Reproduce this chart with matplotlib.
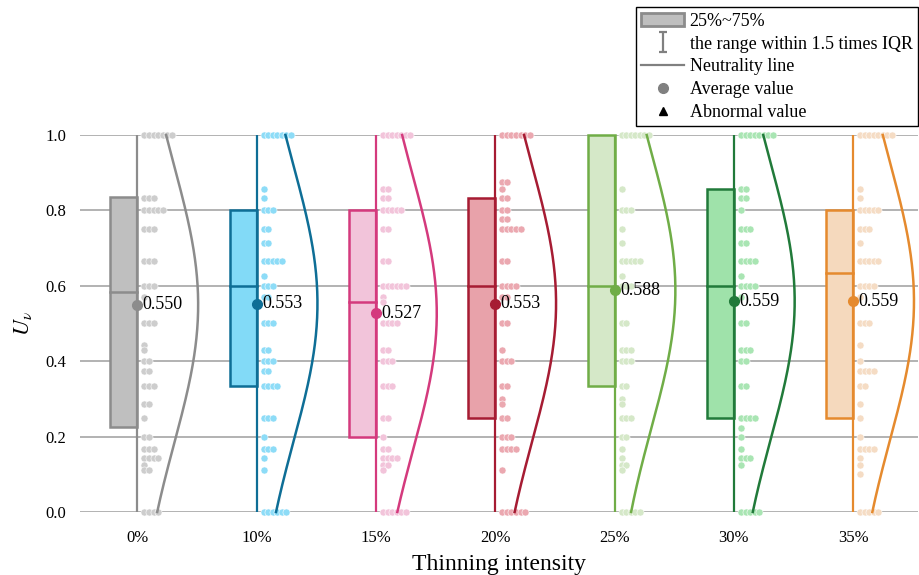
import matplotlib.pyplot as plt
import numpy as np
from matplotlib.lines import Line2D
from matplotlib.patches import Patch, Rectangle
from matplotlib.path import Path

plt.rcParams['font.family'] = ['Liberation Serif', 'DejaVu Serif']
plt.rcParams['mathtext.fontset'] = 'stix'

# Data -----------------------------------------------------
groups = ['0%', '10%', '15%', '20%', '25%', '30%', '35%']
means = [0.550, 0.553, 0.527, 0.553, 0.588, 0.559, 0.559]
q1 = [0.226, 0.333, 0.200, 0.250, 0.333, 0.250, 0.250]
medians = [0.584, 0.600, 0.556, 0.600, 0.600, 0.600, 0.633]
q3 = [0.835, 0.800, 0.800, 0.833, 1.000, 0.857, 0.800]
w_low = [0, 0, 0, 0, 0, 0, 0]
w_high = [1, 1, 1, 1, 1, 1, 1]
sds = [0.368, 0.366, 0.365, 0.366, 0.365, 0.366, 0.368]

vals_0 = [1.0, .833, .8, .75, .667, .6, .571, .5, .444, .429, .4, .375, .333, .286, .25, .2, .167, .143, .125, .111, 0]
cnt_0 = [7, 3, 5, 3, 3, 3, 1, 3, 1, 1, 2, 2, 3, 2, 1, 2, 3, 4, 1, 2, 4]
vals_10 = [1.0, .857, .833, .8, .75, .714, .667, .625, .6, .571, .5, .429, .4, .375, .333, .25, .2, .167, .143, .111, 0]
cnt_10 = [7, 1, 1, 3, 2, 2, 5, 1, 3, 2, 3, 2, 3, 2, 4, 3, 1, 3, 1, 1, 6]
vals_15 = [1.0, .857, .833, .8, .75, .667, .6, .571, .556, .5, .429, .4, .333, .25, .2, .167, .143, .125, .111, 0]
cnt_15 = [7, 2, 2, 5, 2, 2, 6, 1, 1, 4, 2, 3, 3, 2, 1, 2, 4, 2, 1, 6]
vals_20 = [1.0, .875, .857, .833, .8, .778, .75, .667, .6, .571, .5, .429, .4, .333, .3, .286, .25, .2, .167, .111, 0]
cnt_20 = [7, 2, 1, 2, 2, 2, 5, 2, 4, 2, 2, 1, 3, 2, 1, 1, 2, 3, 4, 1, 6]
vals_25 = [1.0, .857, .8, .75, .714, .667, .625, .6, .5, .429, .4, .333, .3, .286, .25, .2, .167, .143, .125, .111, 0]
cnt_25 = [7, 1, 3, 1, 1, 5, 1, 3, 2, 3, 3, 2, 1, 1, 3, 2, 1, 1, 2, 1, 5]
vals_30 = [1.0, .857, .833, .8, .75, .714, .667, .625, .6, .571, .5, .429, .4, .333, .25, .222, .2, .167, .143, .125, 0]
cnt_30 = [8, 2, 2, 1, 3, 2, 4, 1, 4, 1, 2, 3, 2, 2, 4, 1, 1, 1, 3, 1, 5]
vals_35 = [1.0, .857, .833, .8, .75, .714, .667, .6, .571, .5, .444, .4, .375, .333, .286, .25, .2, .167, .143, .125, .1, 0]
cnt_35 = [8, 1, 1, 5, 3, 1, 5, 4, 1, 3, 1, 1, 4, 2, 1, 1, 1, 4, 1, 1, 1, 5]

all_vals = [vals_0, vals_10, vals_15, vals_20, vals_25, vals_30, vals_35]
all_cnts = [cnt_0, cnt_10, cnt_15, cnt_20, cnt_25, cnt_30, cnt_35]

edge_colors = ['#8c8c8c', '#0e6e96', '#d43a7d', '#a61c33', '#70ad47', '#217a3a', '#e58a2e']
fill_colors = ['#bfbfbf', '#82daf7', '#f2c4da', '#e8a2aa', '#d5e8c8', '#9fe2aa', '#f5d9bd']
dot_colors = ['#cdcdcd', '#8ddcf7', '#f2c4da', '#eba8b0', '#d5e8c8', '#a9e5b3', '#f5dcc4']

# Plot -----------------------------------------------------
fig = plt.figure(figsize=(9.2, 5.75), dpi=100)
ax = fig.add_axes([0.087, 0.1096, 0.911, 0.6556])

box_w = 0.225
violin_w = 0.51
yy = np.linspace(0, 1, 300)

for i in range(len(groups)):
    ec = edge_colors[i]
    # whisker line
    ax.plot([i, i], [w_low[i], w_high[i]], color=ec, lw=1.6, zorder=3,
            solid_capstyle='butt', clip_on=False)
    # half box
    ax.add_patch(Rectangle((i - box_w, q1[i]), box_w, q3[i] - q1[i], facecolor=fill_colors[i],
                           edgecolor=ec, lw=1.8, zorder=2, clip_on=False))
    ax.plot([i - box_w, i], [medians[i], medians[i]], color=ec, lw=1.8, zorder=3)
    # raw points
    for v, n in zip(all_vals[i], all_cnts[i]):
        xs = i + 0.06 + 0.038 * np.arange(n)
        ax.scatter(xs, [v] * n, s=26, c=dot_colors[i], edgecolors='white', linewidths=0.4,
                   zorder=1.5, clip_on=False)
    # half density curve
    dens = np.exp(-0.5 * ((yy - means[i]) / sds[i]) ** 2)
    ax.plot(i + violin_w * dens, yy, color=ec, lw=1.8, zorder=3, clip_on=False)
    # mean
    ax.plot(i, means[i], 'o', color=ec, ms=7, zorder=5, clip_on=False)
    ax.text(i + 0.045, means[i], '{:.3f}'.format(means[i]), va='center', ha='left',
            fontsize=13, zorder=6)

ax.set_xlim(-0.48, 6.545)
ax.set_ylim(0, 1)
ax.set_xticks(range(len(groups)))
ax.set_xticklabels(groups)
ax.set_yticks(np.arange(0, 1.01, 0.2))
ax.set_yticklabels(['{:.1f}'.format(t) for t in np.arange(0, 1.01, 0.2)])
ax.tick_params(axis='x', length=0, pad=13, labelsize=12)
ax.tick_params(axis='y', length=0, pad=10, labelsize=12)
ax.grid(axis='y', color='#a6a6a6', lw=1.2)
ax.set_axisbelow(True)
for s in ax.spines.values():
    s.set_visible(False)

ax.set_xlabel('Thinning intensity', fontsize=17, labelpad=6)
ax.set_ylabel(r'$U_{\nu}$', fontsize=16, labelpad=8)

# Legend -----------------------------------------------------
i_marker = Path([(-0.45, 1), (0.45, 1), (0, 1), (0, -1), (-0.45, -1), (0.45, -1)],
                [Path.MOVETO, Path.LINETO, Path.MOVETO, Path.LINETO, Path.MOVETO, Path.LINETO])
handles = [
    Patch(facecolor='#bfbfbf', edgecolor='#8c8c8c', lw=2),
    Line2D([], [], ls='none', marker=i_marker, ms=14, mfc='none', mec='#808080', mew=1.6),
    Line2D([], [], color='#808080', lw=1.6),
    Line2D([], [], ls='none', marker='o', color='#808080', ms=7),
    Line2D([], [], ls='none', marker='^', color='black', ms=6),
]
labels = ['25%~75%', 'the range within 1.5 times IQR', 'Neutrality line',
          'Average value', 'Abnormal value']
leg = fig.legend(handles, labels, loc='upper right', bbox_to_anchor=(0.998, 0.987),
                 frameon=True, fancybox=False, edgecolor='black', framealpha=1,
                 fontsize=13, handlelength=2.4, handletextpad=0.3, labelspacing=0.32,
                 borderpad=0.3, borderaxespad=0)
leg.get_frame().set_linewidth(1.0)

plt.savefig('out.png', dpi=100)
